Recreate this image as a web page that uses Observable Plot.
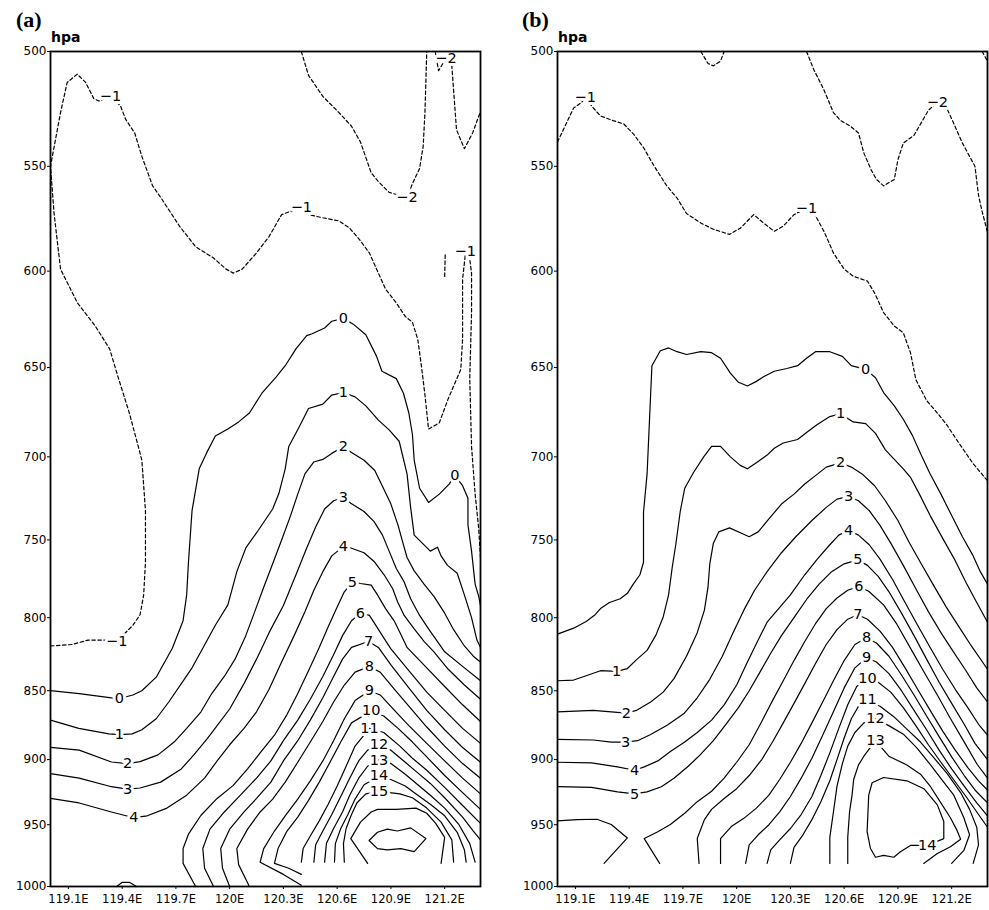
<!DOCTYPE html>
<html><head><meta charset="utf-8">
<script src="https://cdn.jsdelivr.net/npm/d3@7"></script>
<script src="https://cdn.jsdelivr.net/npm/@observablehq/plot@0.6"></script>
<style>
html,body{margin:0;padding:0;background:#fff;}
#wrap{position:relative;width:989px;height:910px;overflow:hidden;background:#fff;}
.panel{position:absolute;top:0;}
.ttl{position:absolute;font:bold 22px "Liberation Serif","Times New Roman",serif;line-height:22px;color:#000;}
.hpa{position:absolute;font:bold 14px "DejaVu Sans",sans-serif;line-height:14px;color:#000;}
</style></head>
<body><div id="wrap"></div>
<script>
// ---------- axes ----------
const xTicks = [119.1,119.4,119.7,120,120.3,120.6,120.9,121.2];
const yTicks = [500,550,600,650,700,750,800,850,900,950,1000];

// ---------- panel (a): contour polylines [lon(E), pressure(hPa)] ----------
const A_m1 = [[119.0,819],[119.12,818],[119.21,815],[119.31,815],[119.37,816],[119.46,805],[119.5,798],[119.52,785],[119.53,764],[119.53,732],[119.51,702],[119.49,694],[119.44,675],[119.38,656],[119.33,640],[119.25,628],[119.15,616],[119.056,599],[119.02,572],[119.0,550],[119.056,526],[119.093,513],[119.149,509.5],[119.196,513],[119.242,520],[119.27,521],[119.335,519],[119.39,523],[119.42,529],[119.47,535],[119.51,545.5],[119.57,559],[119.62,565],[119.72,578],[119.81,588],[119.91,593.5],[119.98,599],[120.02,601],[120.07,599],[120.15,591],[120.22,583],[120.29,572.5],[120.4,569],[120.44,572.5],[120.52,574],[120.61,575.5],[120.67,579],[120.72,584],[120.78,591],[120.83,601],[120.87,609],[120.93,616],[120.98,623],[121.02,626],[121.05,635],[121.07,649],[121.09,665],[121.11,684],[121.17,680.5],[121.22,667],[121.29,651],[121.3,635],[121.3,604],[121.315,592],[121.34,594],[121.35,601],[121.35,621],[121.34,656],[121.35,694],[121.37,722],[121.39,743],[121.4,761]];
const A_m1b = [[121.203,592],[121.2,603]];
const A_m2a = [[120.4,500],[120.44,510],[120.52,519],[120.61,526],[120.68,532],[120.73,539],[120.79,553],[120.83,557],[120.89,562],[120.99,564.5],[121.02,558],[121.06,551],[121.08,541],[121.09,526],[121.1,500]];
const A_m2b = [[121.147,500],[121.166,508],[121.19,505],[121.207,503],[121.24,506],[121.248,514.5],[121.266,533.5],[121.31,542],[121.356,535],[121.4,525.5]];
const A_0 = [[119.0,850],[119.16,852],[119.34,855],[119.385,855.5],[119.46,853],[119.51,850],[119.59,840.5],[119.68,820.5],[119.74,802],[119.76,785],[119.77,764],[119.79,732],[119.83,707],[119.87,698],[119.92,688],[119.99,684],[120.05,680],[120.11,675],[120.18,664],[120.26,655],[120.31,649],[120.37,640],[120.43,633],[120.46,632],[120.53,629],[120.57,625.5],[120.635,624],[120.69,627],[120.76,632.5],[120.82,644],[120.85,652],[120.93,656],[120.97,664],[121.0,675],[121.02,687],[121.03,702],[121.06,718.5],[121.11,727],[121.17,722],[121.225,716],[121.257,711],[121.3,717],[121.33,724.5],[121.33,740.7],[121.35,757],[121.37,778],[121.39,786],[121.4,792]];
const A_1 = [[119.0,871],[119.158,877],[119.326,881],[119.385,881.5],[119.456,881],[119.51,878],[119.59,870],[119.66,858],[119.736,844],[119.79,834],[119.85,820.5],[119.92,805],[119.99,791.5],[120.04,770],[120.09,755],[120.16,744],[120.24,731],[120.275,721.5],[120.31,707],[120.33,694],[120.39,682.5],[120.44,672.5],[120.52,670],[120.57,665],[120.635,663.6],[120.70,666],[120.76,671],[120.83,679],[120.89,684.5],[120.946,691],[120.99,710],[121.01,730],[121.03,747],[121.12,757],[121.16,754.5],[121.18,760],[121.216,766],[121.27,771],[121.31,785],[121.35,800],[121.38,815],[121.4,820]];
const A_2 = [[119.0,891],[119.16,893],[119.34,901.8],[119.43,903],[119.5,901.5],[119.6,896.5],[119.69,887],[119.76,877],[119.84,865],[119.9,852],[119.97,840],[120.03,828],[120.09,812],[120.14,796],[120.19,780],[120.24,765],[120.29,750],[120.34,735],[120.38,722],[120.42,710],[120.47,703],[120.52,701.5],[120.57,698],[120.635,694],[120.68,697.5],[120.75,702],[120.81,708],[120.86,719],[120.9,728],[120.94,741],[120.965,751],[120.99,761],[121.03,769.5],[121.085,778],[121.14,786],[121.2,797],[121.25,808],[121.31,819],[121.36,826],[121.4,830]];
const A_3 = [[119.0,910.5],[119.16,914],[119.34,920.5],[119.43,922.4],[119.5,921.5],[119.615,917],[119.73,907],[119.8,896.5],[119.875,884.5],[119.93,875],[120.0,863],[120.08,845],[120.15,828],[120.22,810],[120.3,792],[120.37,772],[120.43,755],[120.48,742],[120.53,731],[120.58,726],[120.635,724],[120.676,727.5],[120.75,732.5],[120.806,738.7],[120.853,747],[120.89,757],[120.93,768],[120.974,776.6],[121.01,787.5],[121.06,798.5],[121.11,807.5],[121.16,816],[121.2,823],[121.3,833],[121.4,843]];
const A_4 = [[119.0,929.5],[119.16,933],[119.34,940],[119.465,944.5],[119.54,943],[119.65,937],[119.76,927],[119.86,914],[119.93,901],[120.0,889],[120.08,877],[120.15,865],[120.22,849],[120.29,830],[120.36,812],[120.42,796],[120.47,782],[120.52,770],[120.57,760],[120.635,754],[120.676,755],[120.75,758],[120.806,763.5],[120.862,772],[120.91,781],[120.937,789.5],[120.974,798.5],[121.03,807.5],[121.086,816],[121.14,823],[121.22,835],[121.31,846],[121.4,856]];
const A_5 = [[119.81,1000],[119.74,981],[119.74,969],[119.77,957.5],[119.84,942.6],[119.93,929.5],[120.02,919.5],[120.1,907],[120.17,895],[120.25,882],[120.32,867],[120.38,852],[120.44,836],[120.5,820],[120.55,806],[120.6,793],[120.64,783],[120.685,776.6],[120.73,777.6],[120.79,778.7],[120.825,785],[120.87,794],[120.92,802.5],[120.955,811],[120.99,820],[121.1,834],[121.2,847],[121.3,860],[121.4,872]];
const A_6 = [[119.91,1000],[119.86,985],[119.85,969],[119.89,953.5],[119.97,940],[120.06,927],[120.15,914],[120.23,901],[120.3,886],[120.38,871],[120.45,856],[120.52,840],[120.58,825],[120.63,812],[120.68,802],[120.73,797],[120.78,798.5],[120.815,805],[120.86,813.5],[120.9,821],[121.0,836],[121.1,851],[121.2,864],[121.3,877],[121.4,888]];
const A_7 = [[120.0,1000],[119.96,985],[119.95,969],[120.0,953.5],[120.08,940],[120.15,929.5],[120.23,917],[120.3,901],[120.38,886],[120.45,871],[120.52,855],[120.58,840],[120.63,828],[120.68,820],[120.775,816],[120.83,820],[120.9,832],[121.0,848],[121.1,864],[121.2,878],[121.3,891],[121.4,902]];
const A_8 = [[120.11,1000],[120.05,982],[120.04,969],[120.1,953.5],[120.17,940],[120.24,930],[120.31,917],[120.38,902],[120.45,887],[120.52,872],[120.58,858],[120.64,846],[120.7,837],[120.78,833],[120.84,837],[120.92,849],[121.0,861],[121.1,876],[121.2,890],[121.3,903],[121.4,914]];
const A_9 = [[120.4,999],[120.3,990],[120.17,980],[120.19,969],[120.25,955],[120.31,943],[120.38,930],[120.45,916],[120.52,901],[120.58,886],[120.64,870],[120.7,857],[120.78,850],[120.84,853],[120.92,864],[121.0,875],[121.1,888],[121.2,901],[121.3,914],[121.4,926]];
const A_10 = [[120.4,990],[120.33,985],[120.25,981],[120.27,969],[120.32,955],[120.38,944],[120.44,931],[120.5,917],[120.56,902],[120.62,887],[120.68,873],[120.79,864.5],[120.86,868],[120.94,877],[121.02,887],[121.1,898],[121.2,912],[121.3,925],[121.4,938]];
const A_11 = [[120.4,980],[120.41,969],[120.45,959],[120.5,947],[120.55,934],[120.6,920],[120.65,905],[120.7,890],[120.78,877],[120.86,880],[120.95,890],[121.02,899],[121.1,908],[121.2,921],[121.3,935],[121.4,949]];
const A_12 = [[120.47,980],[120.48,966],[120.52,955],[120.57,942],[120.62,928],[120.67,914],[120.72,901],[120.77,893],[120.834,890],[120.9,893],[120.98,902],[121.05,910],[121.12,918],[121.2,929],[121.3,944],[121.36,955],[121.4,962]];
const A_13 = [[120.53,980],[120.54,965],[120.58,953],[120.63,940],[120.67,927],[120.72,914],[120.77,905],[120.834,900],[120.9,903],[120.98,911],[121.05,919],[121.12,927],[121.2,937],[121.28,950],[121.34,965],[121.37,980]];
const A_14 = [[120.585,980],[120.59,965],[120.62,953],[120.66,942],[120.7,930],[120.75,919],[120.834,912.5],[120.9,915],[120.98,920],[121.05,927],[121.12,934],[121.2,943],[121.27,956],[121.31,970],[121.32,980]];
const A_15 = [[120.64,980],[120.635,965],[120.65,953],[120.68,942],[120.71,933],[120.76,926],[120.834,924],[120.95,926],[121.02,929],[121.1,937],[121.18,948],[121.24,962],[121.25,980]];
const A_16 = [[120.77,981],[120.676,961],[120.73,948],[120.79,940],[120.825,938],[120.93,938],[121.04,937],[121.1,941],[121.15,949],[121.2,960],[121.18,981]];
const A_17 = [[120.778,962.5],[120.825,956],[120.88,953.5],[120.936,955],[121.01,952.5],[121.095,961],[121.03,971.5],[120.955,969],[120.88,970],[120.825,969],[120.778,962.5]];
const A_bot = [[119.37,1000],[119.4,996.5],[119.44,996.5],[119.48,1000]];

const A_labels = [["−1",119.335,519],["−1",120.4,569],["−1",121.315,590],["−1",119.37,816],["−2",120.99,564.5],["−2",121.207,503],
  ["0",120.635,624],["0",121.257,711],["0",119.385,855.5],["1",120.635,663.6],["1",119.385,881.5],["2",120.635,694],["2",119.43,903],
  ["3",120.635,724],["3",119.43,922.4],["4",120.635,754],["4",119.465,944.5],["5",120.685,776.6],["6",120.73,797],["7",120.775,816],
  ["8",120.78,833],["9",120.78,850],["10",120.79,864],["11",120.78,877],["12",120.834,889],["13",120.834,900.5],["14",120.834,912],["15",120.834,924]];

// ---------- panel (b) ----------
const B_m1 = [[119.0,539],[119.09,524],[119.136,521.5],[119.155,519.5],[119.2,524],[119.24,527.5],[119.31,529.5],[119.37,531],[119.425,535.5],[119.48,541.5],[119.54,550],[119.61,559],[119.67,565],[119.72,572],[119.8,576.5],[119.87,579.5],[119.96,582],[120.02,579],[120.095,572.5],[120.15,576.5],[120.21,580.5],[120.26,578],[120.32,572.5],[120.39,569.5],[120.44,573],[120.49,581],[120.54,591],[120.6,599],[120.65,602.5],[120.73,605],[120.77,611],[120.82,621],[120.88,628],[120.93,631.5],[120.97,642],[121.0,656.5],[121.06,668],[121.12,675],[121.175,682],[121.25,693.5],[121.32,704],[121.4,714]];
const B_m1t = [[119.8,500],[119.84,505],[119.87,506],[119.91,504],[119.93,500]];
const B_m2 = [[120.39,500],[120.43,507.5],[120.486,516],[120.54,526],[120.58,529.5],[120.635,532],[120.68,535],[120.71,544],[120.75,551.5],[120.78,556],[120.82,559],[120.88,556],[120.9,547],[120.93,539.5],[120.99,536],[121.03,530.5],[121.07,525],[121.12,521.5],[121.175,524.5],[121.21,530.5],[121.26,539.5],[121.3,545.5],[121.33,550],[121.35,563.5],[121.37,571],[121.4,581]];
const B_m2b = [[121.37,500],[121.4,504]];
const B_0 = [[119.0,811],[119.09,807],[119.16,802.5],[119.21,798],[119.24,794],[119.29,790],[119.35,787.5],[119.39,784],[119.42,778.5],[119.46,772],[119.48,764],[119.48,733],[119.5,710],[119.527,649],[119.574,641],[119.62,639.5],[119.667,641.5],[119.72,643],[119.8,641.5],[119.86,642],[119.91,645],[119.965,653],[120.01,658],[120.06,660],[120.11,657.5],[120.15,655],[120.21,652],[120.28,650.5],[120.34,649],[120.39,645],[120.44,641.5],[120.52,641.5],[120.59,644],[120.64,649],[120.72,651],[120.775,655.5],[120.82,663.6],[120.88,671],[120.93,678.5],[120.98,687.5],[121.03,699],[121.08,710],[121.14,722],[121.2,735],[121.26,748],[121.32,760],[121.36,770],[121.4,778]];
const B_1 = [[119.0,843],[119.09,842.5],[119.16,839.5],[119.24,836],[119.33,836.5],[119.39,834.5],[119.44,828.5],[119.5,822],[119.55,811.5],[119.59,799.5],[119.62,785],[119.64,767.5],[119.66,753],[119.685,732.5],[119.71,718.5],[119.76,709],[119.816,700],[119.86,694],[119.91,694],[119.965,700],[120.02,705],[120.06,707],[120.11,703.5],[120.17,699],[120.21,695],[120.26,692],[120.34,690],[120.39,686],[120.45,681.5],[120.52,677],[120.58,675.4],[120.65,680],[120.72,681],[120.775,686.5],[120.83,696],[120.88,701.5],[120.93,707],[120.97,712],[121.02,722],[121.08,735],[121.15,749],[121.22,763],[121.28,777],[121.34,790],[121.4,803]];
const B_2 = [[119.0,865],[119.1,864.5],[119.2,864],[119.3,865],[119.384,866],[119.44,864],[119.52,858],[119.59,851],[119.65,841.5],[119.72,826],[119.78,810],[119.82,795],[119.84,780],[119.85,765],[119.87,752],[119.9,745],[119.96,742.5],[120.03,746],[120.07,748],[120.12,745],[120.18,737],[120.25,728],[120.32,722],[120.38,716],[120.44,711],[120.5,706],[120.58,703.5],[120.64,706],[120.7,710],[120.77,717],[120.83,726],[120.9,738],[120.96,751],[121.03,765],[121.1,779],[121.17,793],[121.24,806],[121.31,819],[121.4,835]];
const B_3 = [[119.0,885],[119.2,885.5],[119.3,887],[119.38,887],[119.447,886],[119.52,881.5],[119.614,874.5],[119.708,866],[119.78,855],[119.85,842],[119.92,826],[119.98,810],[120.04,795],[120.1,782],[120.17,770],[120.25,758],[120.33,748],[120.42,738],[120.5,730],[120.56,725],[120.625,723.4],[120.68,726],[120.74,732],[120.8,741],[120.86,752],[120.93,766],[121.0,781],[121.07,796],[121.14,810],[121.21,823],[121.28,836],[121.34,848],[121.4,858]];
const B_4 = [[119.0,902],[119.19,902.5],[119.335,905.5],[119.43,908],[119.484,905.5],[119.56,901],[119.63,894],[119.71,887],[119.78,880],[119.86,871],[119.93,860],[120.0,846],[120.06,830],[120.12,815],[120.17,803],[120.22,796],[120.3,785],[120.38,772],[120.45,762],[120.52,753],[120.57,747],[120.625,744],[120.68,747],[120.74,753],[120.8,762],[120.87,775],[120.94,790],[121.01,805],[121.08,820],[121.15,835],[121.22,849],[121.29,862],[121.35,874],[121.4,882]];
const B_5 = [[119.0,920.5],[119.19,921],[119.335,924.5],[119.43,926],[119.5,924.5],[119.58,920.5],[119.65,914],[119.73,905],[119.8,896],[119.87,886],[119.94,874],[120.01,862],[120.07,850],[120.13,837],[120.19,824],[120.25,812],[120.32,800],[120.39,788],[120.46,778],[120.53,770],[120.6,765],[120.676,762.5],[120.73,766],[120.79,773],[120.85,783],[120.92,797],[120.99,812],[121.06,828],[121.13,844],[121.2,859],[121.27,874],[121.33,888],[121.4,900]];
const B_6a = [[119.0,947],[119.11,946],[119.22,945.7],[119.3,949.8],[119.39,960.5],[119.26,981]];
const B_6 = [[119.57,981],[119.484,961],[119.56,955.5],[119.63,949.8],[119.71,941],[119.78,932],[119.86,924],[119.93,914],[120.0,902],[120.07,889],[120.14,872],[120.2,857],[120.26,843],[120.32,829],[120.38,816],[120.44,804],[120.5,794],[120.56,787],[120.62,782],[120.682,779.5],[120.737,782.6],[120.82,791.5],[120.895,804.5],[120.97,820.5],[121.044,836.6],[121.12,853],[121.193,869.8],[121.268,886.5],[121.342,903.5],[121.4,914]];
const B_7 = [[119.79,981],[119.78,961],[119.82,946],[119.86,938],[119.93,929.5],[120.0,922],[120.07,912],[120.14,900],[120.2,887],[120.26,873],[120.32,859],[120.38,845],[120.44,831],[120.5,818],[120.56,808],[120.62,801],[120.676,798],[120.73,801],[120.8,809],[120.87,820],[120.94,834],[121.01,849],[121.08,864],[121.15,879],[121.22,893],[121.29,906],[121.35,916],[121.4,923]];
const B_8 = [[119.91,981],[119.91,961],[119.97,951.5],[120.04,945],[120.11,937],[120.18,927],[120.24,915],[120.3,902],[120.36,888],[120.42,873],[120.48,858],[120.54,843],[120.6,829],[120.66,818],[120.725,813.5],[120.78,817],[120.85,826],[120.92,839],[120.99,853],[121.06,868],[121.13,883],[121.2,898],[121.27,912],[121.33,923],[121.4,933]];
const B_9 = [[120.05,981],[120.07,966],[120.12,958],[120.18,950],[120.24,940],[120.3,928],[120.36,914],[120.42,899],[120.48,882],[120.54,865],[120.6,848],[120.66,834],[120.725,827],[120.78,830],[120.85,838],[120.92,850],[120.99,864],[121.06,878],[121.13,893],[121.2,907],[121.27,920],[121.34,933],[121.4,943]];
const B_10 = [[120.17,981],[120.19,970],[120.24,962],[120.3,953],[120.36,942],[120.42,928],[120.47,912],[120.52,895],[120.57,877],[120.62,860],[120.67,847],[120.73,841],[120.79,844],[120.86,851],[120.93,862],[121.0,875],[121.07,889],[121.14,902],[121.21,915],[121.28,928],[121.35,942],[121.4,952]];
const B_11 = [[120.3,981],[120.32,968],[120.37,958],[120.42,946],[120.47,932],[120.52,916],[120.56,900],[120.6,884],[120.64,870],[120.68,861],[120.73,857],[120.8,861],[120.877,868.5],[120.95,877.5],[121.026,887],[121.1,898.5],[121.175,910.5],[121.25,925],[121.3,938],[121.34,952],[121.35,966],[121.32,981]];
const B_12 = [[120.52,981],[120.52,960],[120.54,940],[120.56,920],[120.59,903],[120.62,890],[120.66,880],[120.71,873],[120.775,870],[120.849,875],[120.933,881.5],[121.007,891.5],[121.082,904],[121.147,915.5],[121.212,927],[121.268,944.5],[121.3,958],[121.268,970.5],[121.2,981]];
const B_13 = [[120.62,981],[120.62,960],[120.63,940],[120.644,927],[120.653,915],[120.68,904],[120.71,897.5],[120.775,886],[120.849,897.5],[120.95,904],[121.026,911],[121.082,920.5],[121.138,932.5],[121.193,944.5],[121.23,954.5],[121.25,961.5],[121.193,967.6],[121.12,973],[121.044,981]];
const B_14 = [[120.737,927],[120.728,955.5],[120.747,969],[120.775,976],[120.82,974.5],[120.877,976],[120.914,971.5],[120.97,966.5],[121.063,966.5],[121.156,961],[121.156,947.5],[121.12,934.5],[121.045,922],[120.95,916],[120.82,913.5],[120.756,917.5],[120.737,927]];

const B_labels = [["−1",119.155,519.5],["−1",120.39,569.5],["−2",121.12,521.5],["0",120.72,651],["1",120.58,675.4],["1",119.33,836.5],
  ["2",120.58,703.5],["2",119.384,866],["3",120.625,723.4],["3",119.38,887],["4",120.625,744],["4",119.43,908],["5",120.676,762.5],["5",119.43,926],
  ["6",120.682,779.5],["7",120.676,798],["8",120.725,813.5],["9",120.725,827],["10",120.73,841],["11",120.73,856],["12",120.775,870],["13",120.775,886],["14",121.063,966.5]];

// contour level + line, per panel
const contoursA = [[-1,A_m1],[-1,A_m1b],[-2,A_m2a],[-2,A_m2b],[0,A_0],[1,A_1],[2,A_2],[3,A_3],[4,A_4],[5,A_5],[6,A_6],[7,A_7],[8,A_8],[9,A_9],[10,A_10],[11,A_11],[12,A_12],[13,A_13],[14,A_14],[15,A_15],[16,A_16],[17,A_17],[5,A_bot]];
const contoursB = [[-1,B_m1],[-1,B_m1t],[-2,B_m2],[-2,B_m2b],[0,B_0],[1,B_1],[2,B_2],[3,B_3],[4,B_4],[5,B_5],[6,B_6a],[6,B_6],[7,B_7],[8,B_8],[9,B_9],[10,B_10],[11,B_11],[12,B_12],[13,B_13],[14,B_14]];

function panel(contours, labels) {
  const lineMarks = contours.map(([lev, pts]) => Plot.line(pts, Object.assign(
    {x: d => d[0], y: d => d[1], stroke: "#000", strokeWidth: 1.2},
    lev < 0 ? {strokeDasharray: "3.5,2.5"} : {})));
  const lab = {x: d => d[1], y: d => d[2], text: d => d[0], fontSize: 14.5, fontFamily: "DejaVu Sans"};
  return Plot.plot({
    width: 482, height: 910,
    marginLeft: 50, marginRight: 2, marginTop: 51, marginBottom: 24,
    style: {fontFamily: "DejaVu Sans", fontSize: "12px", background: "transparent", color: "#000"},
    x: {domain: [119.0, 121.4]},
    y: {type: "log", domain: [1000, 500]},
    marks: [
      ...lineMarks,
      Plot.text(labels, {...lab, fill: "#fff", stroke: "#fff", strokeWidth: 6}),
      Plot.text(labels, {...lab, fill: "#000"}),
      Plot.axisX({ticks: xTicks, tickFormat: d => `${d}E`, tickSize: 3, tickPadding: 5, fontSize: 11.5, label: null}),
      Plot.axisY({ticks: yTicks, tickFormat: d => `${d}`, tickSize: 3, tickPadding: 1, fontSize: 12, label: null}),
      Plot.frame({stroke: "#000", strokeWidth: 1.8})
    ]
  });
}

const wrap = document.getElementById("wrap");
const pa = panel(contoursA, A_labels); pa.classList.add("panel"); pa.style.left = "0px"; wrap.appendChild(pa);
const pb = panel(contoursB, B_labels); pb.classList.add("panel"); pb.style.left = "507px"; wrap.appendChild(pb);

function addText(cls, txt, left, top) {
  const d = document.createElement("div"); d.className = cls; d.textContent = txt;
  d.style.left = left + "px"; d.style.top = top + "px"; wrap.appendChild(d);
}
addText("ttl", "(a)", 16, 9);
addText("hpa", "hpa", 51, 30);
addText("ttl", "(b)", 522, 9);
addText("hpa", "hpa", 558, 30);
</script>
</body></html>
